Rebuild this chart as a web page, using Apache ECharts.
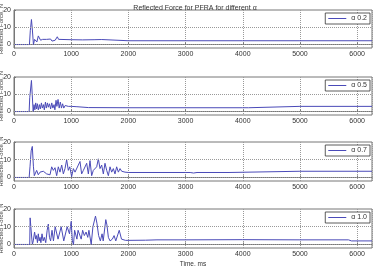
<!DOCTYPE html>
<html><head><meta charset="utf-8">
<script src="https://cdn.jsdelivr.net/npm/echarts@6/dist/echarts.min.js"></script>
<style>html,body{margin:0;padding:0;background:#fff}#c{width:375px;height:266px}</style>
</head><body><div id="c"></div>
<script>
const titleText = 'Reflected Force for PFRA for different α';
const yName = 'Reflected Force, N';
const xName = 'Time, ms';
const seriesNames = ['α 0.2', 'α 0.5', 'α 0.7', 'α 1.0'];
const xTicks = [0, 1000, 2000, 3000, 4000, 5000, 6000];
const yTicks = [0, 10, 20];

const force02 = [[0,0],[270,0],[285,8],[305,14.5],[320,9],[340,0],[360,3],[380,4],[400,1.5],[425,5],[445,4.5],[465,2.5],[500,3],[570,3],[600,3.5],[640,3.2],[665,2],[690,3],[720,2.5],[757,4.5],[780,3],[805,2.8],[1000,2.8],[1200,2.7],[1400,2.8],[1535,2.9],[1545,2.3],[2000,2.2],[3000,2.2],[4000,2.2],[5000,2.2],[6260,2.2]];

const force05 = [[0,0],[265,0],[275,8],[290,9],[305,18],[320,9],[335,0],[350,4],[365,1],[380,5],[395,1.5],[410,4.5],[425,1],[445,4],[460,1.5],[480,5],[495,2],[515,4],[530,1],[550,5.5],[565,2],[585,5],[600,2.5],[620,4.5],[640,1.5],[660,5],[680,2],[700,4],[715,1],[735,6.5],[750,3],[770,7],[790,2],[810,5.5],[830,2],[850,4.5],[870,2],[895,3.5],[920,2.5],[950,3],[980,2.5],[1000,3],[1100,2.8],[1300,2.3],[2000,2.2],[3000,2.2],[4000,2.2],[4100,2.2],[4120,3],[5000,3],[6260,3]];

const force07 = [[0,0],[265,0],[280,6],[300,15],[320,17.5],[340,6],[355,1],[396,4],[425,1.5],[455,3],[484,2],[513,3.5],[571,2],[600,3],[630,1.5],[659,6],[688,4],[717,5.5],[746,1],[775,6],[804,3],[834,7],[863,2],[892,5],[921,10],[950,4],[975,6],[1008,0.5],[1038,5],[1067,3],[1096,4],[1125,7],[1154,9],[1183,2],[1213,4],[1242,3],[1271,8],[1300,2],[1329,9.5],[1358,1],[1387,4],[1417,3],[1446,6],[1475,10.5],[1504,5],[1533,7],[1562,2],[1591,8],[1621,4],[1650,1],[1679,6],[1708,3],[1737,5],[1766,2],[1795,6],[1825,3],[1854,5],[1883,3.5],[1912,4.5],[1941,3],[2000,2.8],[3000,2.8],[3080,2.8],[3110,3.5],[3140,2.5],[3170,3.3],[3200,2.8],[3760,2.8],[3780,3.5],[5000,3.5],[6260,3.5]];

const force10 = [[0,0],[275,0],[282,15],[292,14],[302,14],[312,3],[322,0],[337,2],[360,7],[380,3],[395,5],[410,1],[425,6],[440,2],[455,4],[470,1],[490,6],[510,2],[530,4],[555,1],[580,8],[600,11.5],[620,4],[640,2],[665,8],[690,2],[720,10],[745,10.5],[770,3],[800,2],[825,10],[845,9],[870,2],[900,3],[930,10],[950,11],[970,6],[1000,13],[1020,2],[1040,0],[1060,8],[1080,7],[1100,3],[1120,8],[1150,7],[1175,3],[1200,8],[1230,5],[1260,7],[1290,4],[1310,8],[1350,0],[1380,10],[1425,16],[1450,12],[1480,5],[1510,2],[1540,6],[1560,2],[1605,14],[1625,11],[1650,4],[1680,2],[1720,3],[1750,5],[1780,2],[1800,3],[1840,8],[1860,7.5],[1880,3],[1900,2.5],[1950,2.3],[2300,2.4],[2500,2.6],[3000,2.6],[4000,2.7],[5000,2.6],[5850,2.6],[5900,2],[6260,2]];

const allData = [force02, force05, force07, force10];
const gridTops = [10, 77, 142, 209];
const gridHeights = [38, 38, 39, 39];
const lineColor = '#4a4ab8';
const FONT = 'Liberation Sans';

const grids = [], xAxes = [], yAxes = [], series = [], legends = [];
for (let i = 0; i < 4; i++) {
  grids.push({left: 14, right: 3, top: gridTops[i], height: gridHeights[i], show: true,
    containLabel: false, outerBoundsMode: 'none',
    borderColor: '#777', borderWidth: 1, backgroundColor: '#fff'});
  xAxes.push({type: 'value', gridIndex: i, min: 0, max: 6260, interval: 1000,
    name: i === 3 ? xName : '', nameLocation: 'middle', nameGap: 13, nameMoveOverlap: false,
    nameTextStyle: {fontSize: 6.5, color: '#333', fontFamily: FONT},
    axisLine: {show: true, lineStyle: {color: '#777'}},
    axisTick: {show: true, inside: true, length: 2, lineStyle: {color: '#777'}},
    axisLabel: {fontSize: 7, color: '#333', margin: 3, fontFamily: FONT, showMaxLabel: false,
      formatter: v => String(v)},
    splitLine: {show: true, lineStyle: {type: 'dotted', color: '#999', width: 1}}});
  yAxes.push({type: 'value', gridIndex: i, min: -2, max: 20,
    name: yName, nameLocation: 'middle', nameGap: 9.5, nameMoveOverlap: false,
    nameTextStyle: {fontSize: 6, color: '#444', fontFamily: FONT},
    axisLine: {show: true, lineStyle: {color: '#777'}},
    axisTick: {show: true, inside: true, length: 2, customValues: yTicks, lineStyle: {color: '#777'}},
    axisLabel: {fontSize: 7, color: '#333', margin: 3, fontFamily: FONT, customValues: yTicks},
    splitLine: {show: false}});
  series.push({type: 'line', name: seriesNames[i], xAxisIndex: i, yAxisIndex: i,
    data: allData[i], showSymbol: false, symbol: 'none', animation: false,
    lineStyle: {color: lineColor, width: 1}, itemStyle: {color: lineColor},
    markLine: {silent: true, symbol: 'none', animation: false, label: {show: false},
      lineStyle: {type: 'dotted', color: '#999', width: 1},
      data: [{yAxis: 0}, {yAxis: 10}]}});
  legends.push({data: [seriesNames[i]], right: 5, top: gridTops[i] + 3,
    orient: 'vertical', icon: 'rect', itemWidth: 18, itemHeight: 1,
    padding: [2, 3, 2, 3], borderColor: '#333', borderWidth: 0.8, backgroundColor: '#fff',
    textStyle: {fontSize: 7, color: '#333', fontFamily: FONT}});
}

const chart = echarts.init(document.getElementById('c'), null, {renderer: 'canvas'});
chart.setOption({
  animation: false,
  backgroundColor: '#fff',
  title: {text: titleText, left: 190, textAlign: 'center', top: 0,
    textStyle: {fontSize: 7, fontWeight: 'normal', color: '#333', fontFamily: FONT}},
  grid: grids, xAxis: xAxes, yAxis: yAxes, series: series, legend: legends
});
</script></body></html>
